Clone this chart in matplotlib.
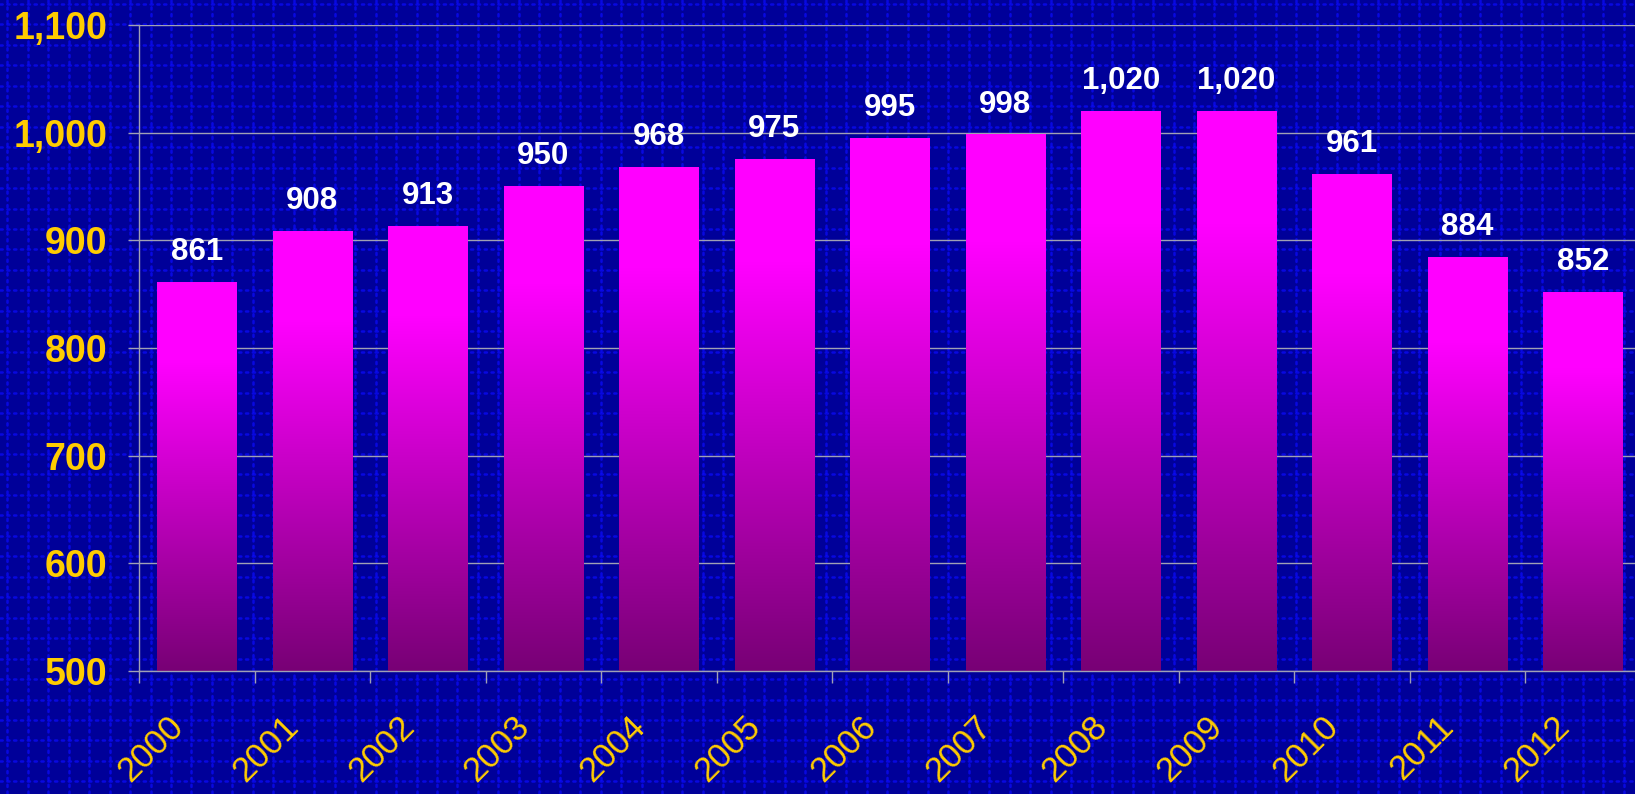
import numpy as np
import matplotlib
matplotlib.use("Agg")
import matplotlib.pyplot as plt
from matplotlib.transforms import ScaledTranslation
from matplotlib.ticker import FuncFormatter

# chart data
years = ["2000", "2001", "2002", "2003", "2004", "2005", "2006",
         "2007", "2008", "2009", "2010", "2011", "2012"]
values = [861, 908, 913, 950, 968, 975, 995, 998, 1020, 1020, 961, 884, 852]

y_ticks = [500, 600, 700, 800, 900, 1000, 1100]

BG = "#000099"
DOT = "#0c0cff"
GOLD = "#FFCC00"
GRID = "#a0a0b4"

plt.rcParams["font.family"] = ["Liberation Sans", "DejaVu Sans"]
plt.rcParams["lines.scale_dashes"] = False

W, H = 1635, 794
fig = plt.figure(figsize=(W / 100, H / 100), dpi=100)
fig.patch.set_facecolor(BG)

# dotted background texture, in pixel units
bg = fig.add_axes([0, 0, 1, 1], zorder=0)
bg.set_xlim(0, W)
bg.set_ylim(H, 0)
bg.axis("off")
step = 20.46
dash = (0, (1.6, 3.31))
for gy in np.arange(3.9, H, step):
    bg.plot([0, W], [gy, gy], color=DOT, lw=1.8, linestyle=dash,
            dash_capstyle="round", alpha=0.7)
for gx in np.arange(7.3, W, step):
    bg.plot([gx, gx], [0, H], color=DOT, lw=1.8, linestyle=dash,
            dash_capstyle="round", alpha=0.7)

# main axes
ax = fig.add_axes([139 / W, 123 / H, 1501.5 / W, 646 / H], zorder=1)
ax.set_facecolor("none")
x = np.arange(len(years))
bars = ax.bar(x, values, width=0.684, bottom=0, color="none", zorder=2)

# vertical gradient fill for each bar: bright on top, dark purple at bottom
t = np.linspace(0, 1, 256)
f = np.clip((t - 0.2) / 0.8, 0, 1)
top = np.array([1.0, 0.0, 1.0])
bottom = np.array([0.47, 0.0, 0.46])
grad = top[None, :] * (1 - f[:, None]) + bottom[None, :] * f[:, None]
grad = grad[:, None, :]
for rect, v in zip(bars, values):
    x0 = rect.get_x()
    w = rect.get_width()
    ax.imshow(grad, extent=(x0, x0 + w, 500, v), aspect="auto",
              origin="upper", zorder=2, interpolation="bilinear")
    ax.annotate(f"{v:,}", (x0 + w / 2, v), xytext=(0, 11),
                textcoords="offset points", ha="center", va="bottom",
                color="white", fontsize=22.5, fontweight="bold", zorder=3)
ax.set_xlim(-0.5, len(years) - 0.5)
ax.set_ylim(500, 1100)

# axes styling
for s in ["top", "right"]:
    ax.spines[s].set_visible(False)
for s in ["left", "bottom"]:
    ax.spines[s].set_color(GRID)
    ax.spines[s].set_linewidth(1)
ax.set_yticks(y_ticks)
ax.yaxis.set_major_formatter(FuncFormatter(lambda v, p: f"{int(v):,}"))
ax.yaxis.grid(True, color=GRID, lw=1, zorder=1)
ax.set_axisbelow(True)
ax.tick_params(axis="y", colors=GRID, length=8, width=1, pad=15,
               labelcolor=GOLD, labelsize=27)
for lab in ax.get_yticklabels():
    lab.set_fontweight("bold")

ax.set_xticks(np.arange(-0.5, len(years), 1.0))
ax.set_xticklabels([])
ax.tick_params(axis="x", colors=GRID, length=8.6, width=1)

# rotated year labels
off = ScaledTranslation(-22 / 72, -28 / 72, fig.dpi_scale_trans)
for i, yr in enumerate(years):
    ax.text(i, 500, yr, transform=ax.transData + off, rotation=45,
            rotation_mode="anchor", ha="right", va="top",
            color=GOLD, fontsize=25, clip_on=False)

fig.savefig("out.png", dpi=100, facecolor=BG)
